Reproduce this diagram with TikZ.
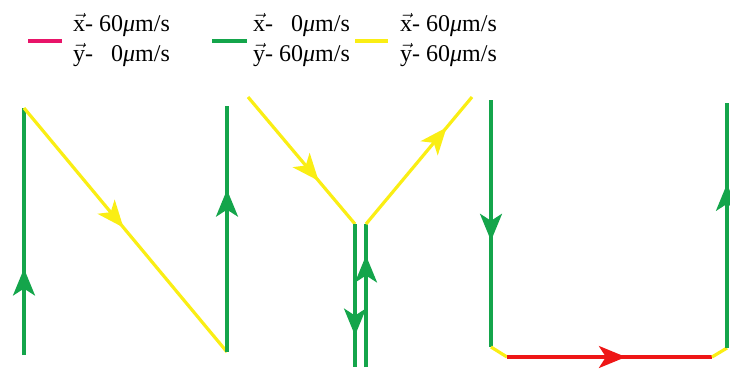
\RequirePackage{fix-cm}
\documentclass[tikz,border=0pt]{standalone}
\usepackage{amsmath,amssymb}
\usepackage{fontspec}
\setmainfont{Liberation Serif}
\usepackage{tikz}
\usetikzlibrary{arrows.meta,decorations.markings}
\definecolor{verde}{RGB}{20,165,75}
\definecolor{amarillo}{RGB}{250,238,20}
\definecolor{rojo}{RGB}{238,22,22}
\definecolor{rosa}{RGB}{232,20,105}
\tikzset{
  tramo/.style={line width=3.2pt},
  flecha/.style={postaction={decorate},
    decoration={markings,mark=at position #1 with
      {\arrow{Stealth[length=27pt,width=22pt,inset=7pt]}}}},
  leyenda/.style={anchor=west,inner sep=0pt,
    font=\fontsize{24}{30}\selectfont},
}
\newcommand{\vel}[2]{%
  \begin{tabular}{@{}l@{\ }r@{}}
    $\vec{\text{x}}$- & #1\textit{μ}m/s\\
    $\vec{\text{y}}$- & #2\textit{μ}m/s
  \end{tabular}}

\begin{document}
\begin{tikzpicture}[x=1pt,y=-1pt]
  \useasboundingbox (0,0) rectangle (730,375);
  % legend
  \draw[tramo,rosa] (28,41) -- ++(34,0);
  \node[leyenda] (velRoja) at (73,40) {\vel{60}{0}};
  \draw[tramo,verde] (212,41) -- ++(35,0);
  \node[leyenda] (velVerde) at (253,40) {\vel{0}{60}};
  \draw[tramo,amarillo] (355,41) -- ++(33,0);
  \node[leyenda] (velAmarilla) at (400,40) {\vel{60}{60}};
  % N
  \coordinate (n1) at (24,355);
  \coordinate (n2) at (24,108);
  \coordinate (n3) at (227,352);
  \coordinate (n4) at (227,106);
  \draw[tramo,verde,flecha=0.35] (n1) -- (n2);
  \draw[tramo,amarillo,flecha=0.49] (n2) -- (n3);
  \draw[tramo,verde,flecha=0.66] (n3) -- (n4);
  % Y
  \coordinate (y1) at (248,97);
  \coordinate (y2) at (355,224);
  \coordinate (y3) at (355,367);
  \coordinate (y4) at (366,367);
  \coordinate (y5) at (366,224);
  \coordinate (y6) at (472,97);
  \draw[tramo,amarillo,flecha=0.66] (y1) -- (y2);
  \draw[tramo,verde,flecha=0.78] (y2) -- (y3);
  \draw[tramo,verde,flecha=0.78] (y4) -- (y5);
  \draw[tramo,amarillo,flecha=0.76] (y5) -- (y6);
  % U
  \coordinate (u1) at (491,100);
  \coordinate (u2) at (491,347);
  \coordinate (u3) at (507,357);
  \coordinate (u4) at (712,357);
  \coordinate (u5) at (727,348);
  \coordinate (u6) at (727,103);
  \draw[tramo,verde,flecha=0.57] (u1) -- (u2);
  \draw[tramo,amarillo] (u2) -- (u3);
  \draw[tramo,rojo,flecha=0.58] (u3) -- (u4);
  \draw[tramo,amarillo] (u4) -- (u5);
  \draw[tramo,verde,flecha=0.67] (u5) -- (u6);
\end{tikzpicture}
\end{document}
